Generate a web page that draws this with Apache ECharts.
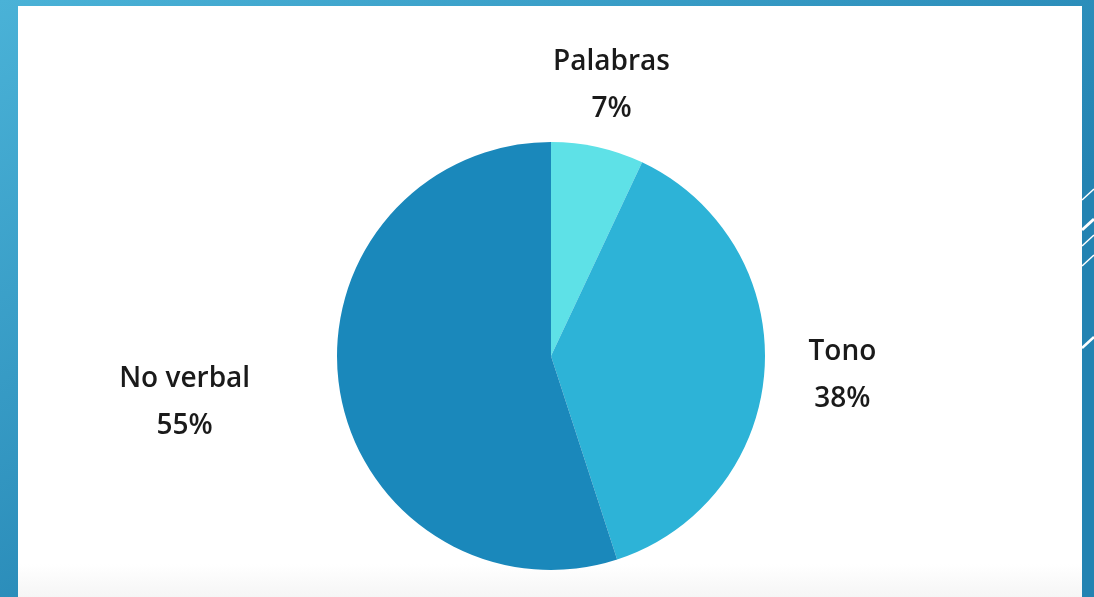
<!DOCTYPE html>
<html>
<head>
<meta charset="utf-8">
<script src="https://cdn.jsdelivr.net/npm/echarts@6/dist/echarts.min.js"></script>
<style>
  html, body { margin: 0; padding: 0; }
  #chart { width: 1094px; height: 597px; }
</style>
</head>
<body>
<div id="chart"></div>
<script>
// slices clockwise from the top
const names = ['Palabras', 'Tono', 'No verbal']
const values = [7, 38, 55]
const colors = ['#5ee1e7', '#2db3d7', '#1a88bb']
// how far each label sits from the pie
const lineLen = [52, 22, 40]
const lineLen2 = [0, 20, 48]
const labelDx = [-61, -3, 3]
const labelDy = [-11, 5, 7]

const chart = echarts.init(document.getElementById('chart'))

const data = names.map((n, i) => ({
  name: n,
  value: values[i],
  itemStyle: { color: colors[i] },
  labelLine: { show: false, length: lineLen[i], length2: lineLen2[i] },
}))

const txt = {
  fontFamily: 'Open Sans',
  fontWeight: 600,
  fontSize: 28,
  color: '#1a1a1a',
  lineHeight: 47,
  align: 'center',
}

chart.setOption({
  backgroundColor: {
    type: 'linear', x: 0, y: 0, x2: 0.3, y2: 1,
    colorStops: [
      { offset: 0, color: '#4ab2d7' },
      { offset: 1, color: '#2383b2' },
    ],
  },
  graphic: [
    {
      type: 'rect',
      shape: { x: 18, y: 6, width: 1064, height: 600 },
      style: {
        fill: {
          type: 'linear', x: 0, y: 0, x2: 0, y2: 1,
          colorStops: [
            { offset: 0, color: '#ffffff' },
            { offset: 0.93, color: '#ffffff' },
            { offset: 1, color: '#f3f3f3' },
          ],
        },
      },
      z: -10,
    },
    { type: 'line', shape: { x1: 1082, y1: 200, x2: 1094, y2: 189 }, style: { stroke: '#fff', lineWidth: 1.5 } },
    { type: 'line', shape: { x1: 1082, y1: 230, x2: 1094, y2: 219 }, style: { stroke: '#fff', lineWidth: 3 } },
    { type: 'line', shape: { x1: 1082, y1: 246, x2: 1094, y2: 235 }, style: { stroke: '#fff', lineWidth: 1.5 } },
    { type: 'line', shape: { x1: 1082, y1: 266, x2: 1094, y2: 255 }, style: { stroke: '#fff', lineWidth: 1.5 } },
    { type: 'line', shape: { x1: 1082, y1: 348, x2: 1094, y2: 337 }, style: { stroke: '#fff', lineWidth: 2.5 } },
  ],
  series: [
    {
      type: 'pie',
      center: [551, 356],
      radius: 214,
      startAngle: 90,
      clockwise: true,
      silent: true,
      avoidLabelOverlap: false,
      label: {
        show: true,
        position: 'outside',
        formatter: '{n|{b}}\n{v|{d}%}',
        rich: { n: txt, v: txt },
      },
      labelLine: { show: false },
      labelLayout: function (p) {
        return { dx: labelDx[p.dataIndex], dy: labelDy[p.dataIndex] }
      },
      data: data,
    },
  ],
})
</script>
</body>
</html>
